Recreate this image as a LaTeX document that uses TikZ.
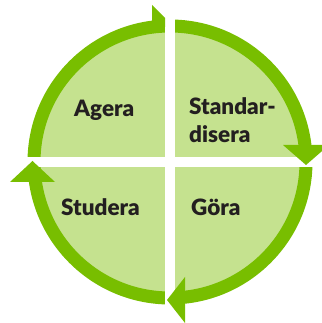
\documentclass[tikz,border=0pt]{standalone}
\usepackage{fontspec}
\setmainfont{Lato}[BoldFont={Lato Black}]
\definecolor{ringgreen}{RGB}{120,190,0}
\definecolor{lightgreen}{RGB}{197,226,143}
\definecolor{textdark}{RGB}{35,31,32}
\begin{document}
\begin{tikzpicture}[x=1pt,y=1pt,
  lbl/.style={font=\bfseries\fontsize{22.5}{28}\selectfont, text=textdark, inner sep=0pt, anchor=base west},
  ringline/.style={draw=ringgreen, line width=13pt},
  gapfill/.style={fill=white},
  headfill/.style={fill=ringgreen}]
\useasboundingbox (0,0) rectangle (321,323);
% quadrant disc
\fill[lightgreen] (170,161) circle (137);
% ring
\path[ringline] (170,161) circle (136);
% white gaps
\path[gapfill] (165,-10) rectangle (175,333);
\path[gapfill] (-10,156) rectangle (331,166);
% arrowheads
\path[headfill] (283,178) -- (329,178) -- (306,158) -- cycle;   % right, pointing down
\path[headfill] (185,46) -- (185,0) -- (167,23) -- cycle;       % bottom, pointing left
\path[headfill] (10,141) -- (55,141) -- (32.5,162) -- cycle;    % left, pointing up
\path[headfill] (152,318) -- (165,305) -- (165,296) -- (152,296) -- cycle; % top, pointing right
% labels
\node[lbl] (agera) at (74,206) {Agera};
\node[lbl] (std1) at (189,208) {Standar-};
\node[lbl] (std2) at (189,180) {disera};
\node[lbl] (studera) at (61,107) {Studera};
\node[lbl] (gora) at (191,107) {Göra};
\end{tikzpicture}
\end{document}
